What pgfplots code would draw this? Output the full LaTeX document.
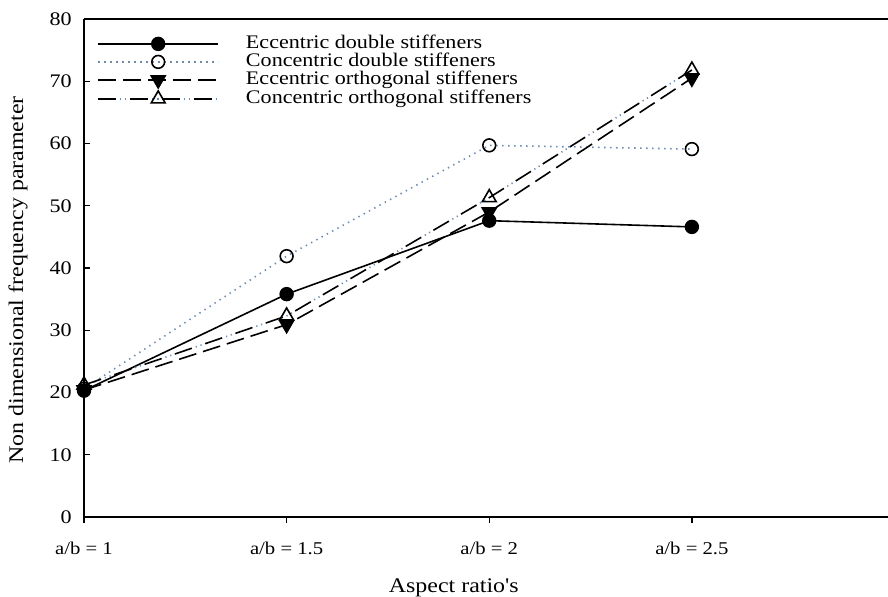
\documentclass[border=0pt]{standalone}
\usepackage{pgfplots}
\pgfplotsset{compat=1.18}
\usepackage{fontspec}
\setmainfont{Liberation Serif}[FakeStretch=1.15]
\newfontfamily\plainserif{Liberation Serif}[FakeStretch=1.15]
\definecolor{dotblue}{RGB}{110,140,175}
\newcommand{\ff}{\fontsize{9}{10}\selectfont}
\newcommand{\fl}{\fontsize{9.6}{10}\selectfont}
\newcommand{\fx}{\fontsize{10.4}{11}\selectfont}
\begin{document}
\begin{tikzpicture}
\begin{axis}[name=ax, scale only axis, width=402pt, height=249pt,
  xmin=1, xmax=2.984, ymin=0, ymax=80, clip=false,
  axis lines=left, axis line style={-, line width=0.8pt},
  xtick={1,1.5,2,2.5}, xticklabels={a/b = 1, a/b = 1.5, a/b = 2, a/b = 2.5},
  ytick={0,10,...,80},
  tick align=inside, major tick length=3pt,
  xtick align=outside,
  tick style={black, line width=0.7pt},
  /pgf/number format/assume math mode=true,
  ticklabel style={font=\ff, inner sep=0pt},
  xticklabel style={yshift=-9.5pt},
  yticklabel style={xshift=-6pt, font=\fl},
  xlabel={{\plainserif Aspect ratio's}}, ylabel={Non dimensional frequency parameter},
  label style={font=\fx, inner sep=0pt},
  xlabel style={at={(axis description cs:0.46,0)}, anchor=north, yshift=-30.5pt},
  ylabel style={at={(axis description cs:0,0.476)}, anchor=center, yshift=33pt},
  legend cell align=left,
  legend style={at={(0,1)}, anchor=north west, xshift=6.5pt, yshift=-8.5pt,
    draw=none, fill=none, inner sep=0pt, column sep=13.5pt, row sep=1.5pt, font=\fl,
    nodes={inner sep=0pt, text height=6pt, text depth=1.5pt}},
  legend image code/.code={\draw[mark repeat=2,mark phase=2,#1] plot coordinates {(0pt,0pt)(30pt,0pt)(60pt,0pt)};},
]
\addplot[black, line width=0.8pt, mark=*, mark size=3.2pt, mark options={solid, fill=black}]
  coordinates {(1,20.3)(1.5,35.8)(2,47.6)(2.5,46.6)};
\addlegendentry{Eccentric double stiffeners}
\addplot[dotblue, line width=0.8pt, dash pattern=on 0.7pt off 2.3pt, mark=o, mark size=3.2pt, mark options={solid, black, fill=white}]
  coordinates {(1,20.6)(1.5,41.9)(2,59.7)(2.5,59.1)};
\addlegendentry{Concentric double stiffeners}
\addplot[black, line width=0.8pt, dash pattern=on 9pt off 3.5pt, mark=triangle*, mark size=4pt, mark options={solid, fill=black, rotate=180}]
  coordinates {(1,20.4)(1.5,30.9)(2,49.0)(2.5,70.5)};
\addlegendentry{Eccentric orthogonal stiffeners}
\addplot[black, line width=0.8pt, dash pattern=on 9pt off 7pt,
  postaction={draw=dotblue, line width=0.8pt, dash pattern=on 0.6pt off 1.9pt on 0.6pt off 12.9pt, dash phase=5pt},
  mark=triangle, mark size=4pt, mark options={solid, black, fill=white}]
  coordinates {(1,21.2)(1.5,32.3)(2,51.3)(2.5,71.8)};
\addlegendentry{Concentric orthogonal stiffeners}
\draw[line width=0.8pt] (rel axis cs:0,1) -- (rel axis cs:1,1);
\end{axis}
\pgfresetboundingbox
\path ([xshift=-42pt,yshift=-40pt]ax.south west) rectangle ([yshift=9.5pt]ax.north east);
\end{tikzpicture}
\end{document}
